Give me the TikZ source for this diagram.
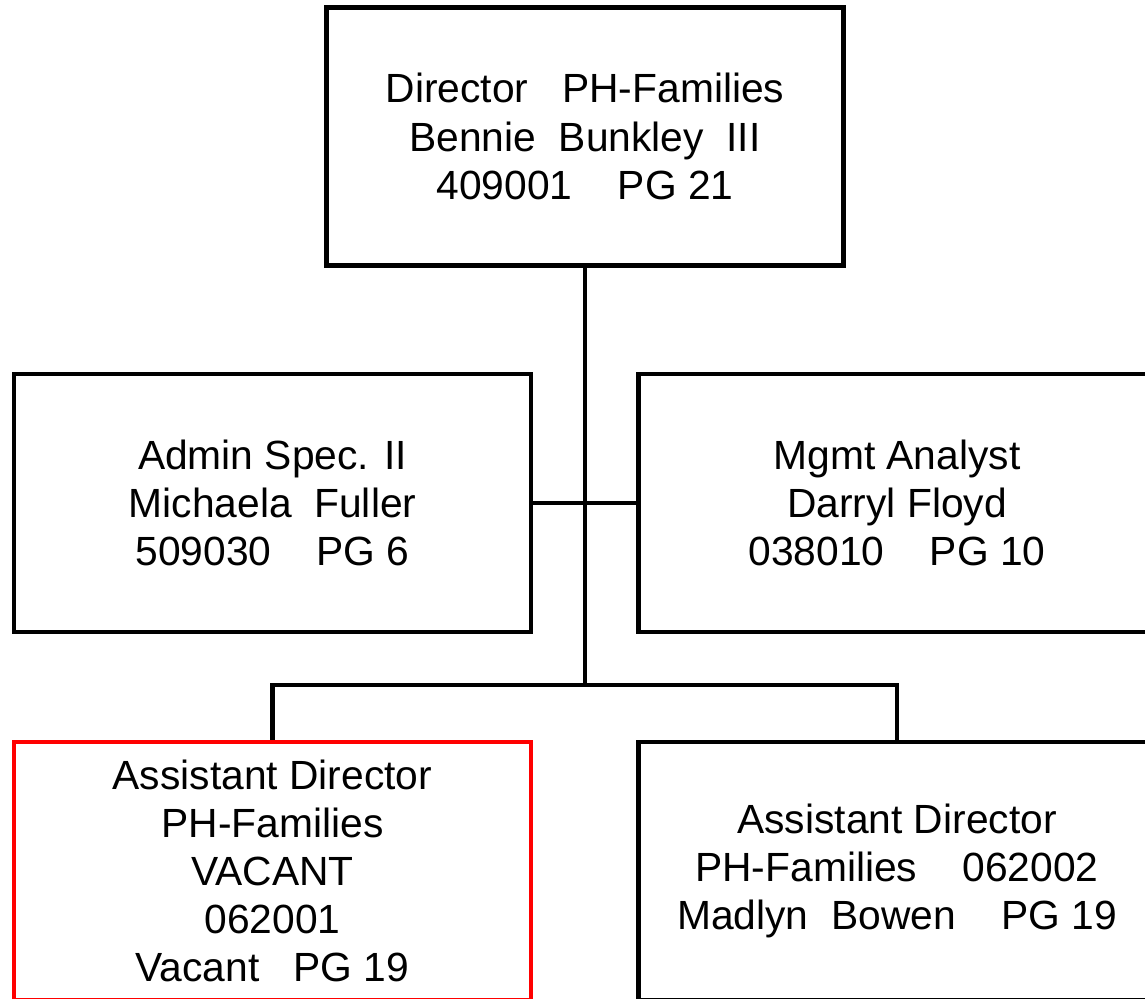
\documentclass[tikz,border=0pt]{standalone}
\usepackage{fontspec}
\setmainfont{Liberation Sans}
\usepackage{tikz}

\begin{document}
\begin{tikzpicture}[x=0.2mm,y=-0.2mm,
    post/.style={draw=black,line width=2.3pt,align=center,inner sep=0pt,
      minimum width=103.4mm,minimum height=51.6mm,
      font=\fontsize{23.2}{27.4}\selectfont},
    vacantpost/.style={post,draw=red},
    link/.style={draw=black,line width=2.3pt}]
    \useasboundingbox (0,0) rectangle (1145,998);
    \clip (0,0) rectangle (1145,998);
    \node [post] (dir) at (585,136.5) {Director\ \ \ PH-Families\\Bennie\ \ Bunkley\ \ III\\409001\ \ \ \ PG 21};
    \node [post] (adm) at (272.5,503) {Admin Spec. II\\Michaela\ \ Fuller\\509030\ \ \ \ PG 6};
    \node [post] (ana) at (897,503) {Mgmt Analyst\\Darryl Floyd\\038010\ \ \ \ PG 10};
    \node [vacantpost] (ad1) at (272.5,871) {Assistant Director\\PH-Families\\VACANT\\062001\\Vacant\ \ \ PG 19};
    \node [post] (ad2) at (897,871) {Assistant Director\\PH-Families\ \ \ \ 062002\\Madlyn\ \ Bowen\ \ \ \ PG 19};
    \coordinate (bus) at (585,685);
    \draw [link] (dir.south) -- (bus);
    \draw [link] (adm.east) -- (ana.west);
    \draw [link] (ad1.north) |- (bus) -| (ad2.north);
\end{tikzpicture}
\end{document}
